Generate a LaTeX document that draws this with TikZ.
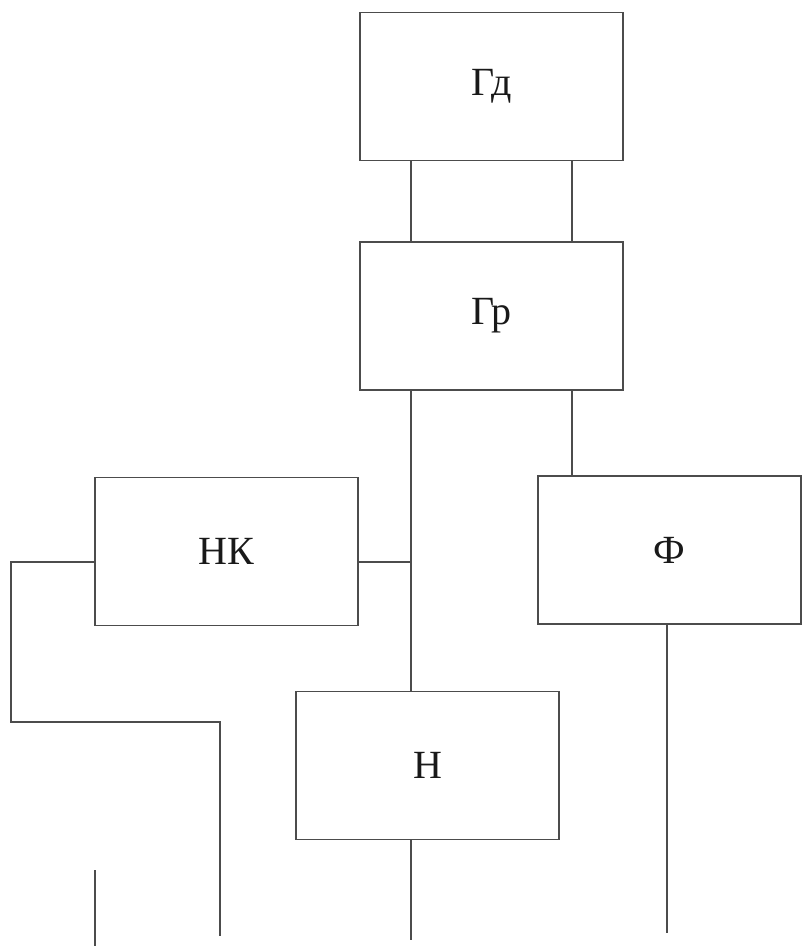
\documentclass[tikz,border=0pt]{standalone}
\usepackage{fontspec}
\setmainfont{Liberation Serif}
\begin{document}
\begin{tikzpicture}[x=1pt,y=-1pt,
  line width=1.5pt, draw=black!70,
  unit/.style={draw=black!70, rectangle, minimum width=263pt, minimum height=148pt,
    inner sep=0pt, font=\fontsize{40}{48}\selectfont, text=black!90}]
\useasboundingbox (0,0) rectangle (811,946);

% blocks
\node[unit] (gd) at (491.5,86.5) {Гд};
\node[unit] (gr) at (491.5,316) {Гр};
\node[unit] (nk) at (226.5,551.5) {НК};
\node[unit] (ph) at (669.5,550) {Ф};
\node[unit] (n)  at (427.5,765.5) {Н};

% column and junction points
\coordinate (colA) at (411,0);
\coordinate (colB) at (572,0);
\coordinate (j) at (411,562);
\coordinate (l1) at (11,562);
\coordinate (l2) at (11,722);
\coordinate (l3) at (220,722);
\coordinate (l4) at (220,936);
\coordinate (fEnd) at (667,933);
\coordinate (nEnd) at (411,940);
\coordinate (s1) at (95,870);
\coordinate (s2) at (95,946);

% connectors
\draw (gd.south -| colA) -- (gr.north -| colA);
\draw (gd.south -| colB) -- (gr.north -| colB);
\draw (gr.south -| colA) -- (n.north -| colA);
\draw (gr.south -| colB) -- (ph.north -| colB);
\draw (nk.east |- j) -- (j);
\draw (nk.west |- j) -- (l1) -- (l2) -- (l3) -- (l4);
\draw (ph.south -| fEnd) -- (fEnd);
\draw (n.south -| nEnd) -- (nEnd);
\draw (s1) -- (s2);
\end{tikzpicture}
\end{document}
